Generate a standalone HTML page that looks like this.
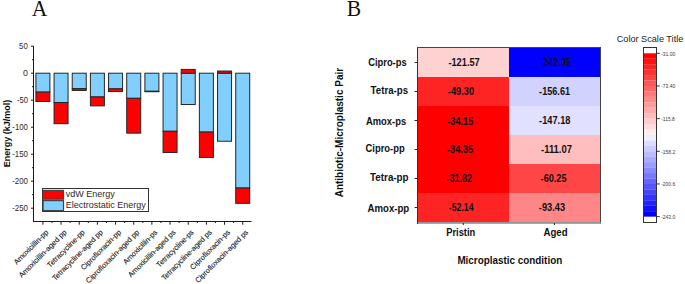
<!DOCTYPE html>
<html><head><meta charset="utf-8"><style>
html,body{margin:0;padding:0;background:#fff;width:685px;height:284px;overflow:hidden;}
svg{display:block;}
</style></head><body>
<svg width="685" height="284" viewBox="0 0 685 284">
<text transform="translate(31.7,15.8) scale(0.94,1)" font-family="&quot;Liberation Serif&quot;, serif" font-size="23" fill="#111">A</text>
<text transform="translate(346.7,15.8) scale(0.94,1)" font-family="&quot;Liberation Serif&quot;, serif" font-size="23" fill="#111">B</text>
<rect x="35.90" y="73.20" width="14.00" height="18.90" fill="#80CFFF" stroke="#262626" stroke-width="1"/>
<rect x="35.90" y="92.10" width="14.00" height="9.40" fill="#FF0000" stroke="#262626" stroke-width="1"/>
<rect x="54.06" y="73.20" width="14.00" height="29.32" fill="#80CFFF" stroke="#262626" stroke-width="1"/>
<rect x="54.06" y="102.52" width="14.00" height="21.17" fill="#FF0000" stroke="#262626" stroke-width="1"/>
<rect x="72.23" y="73.20" width="14.00" height="15.50" fill="#80CFFF" stroke="#262626" stroke-width="1"/>
<rect x="72.23" y="88.70" width="14.00" height="1.73" fill="#FF0000" stroke="#262626" stroke-width="1"/>
<rect x="90.39" y="73.20" width="14.00" height="23.76" fill="#80CFFF" stroke="#262626" stroke-width="1"/>
<rect x="90.39" y="96.96" width="14.00" height="8.91" fill="#FF0000" stroke="#262626" stroke-width="1"/>
<rect x="108.56" y="73.20" width="14.00" height="15.66" fill="#80CFFF" stroke="#262626" stroke-width="1"/>
<rect x="108.56" y="88.86" width="14.00" height="2.70" fill="#FF0000" stroke="#262626" stroke-width="1"/>
<rect x="126.72" y="73.20" width="14.00" height="25.11" fill="#80CFFF" stroke="#262626" stroke-width="1"/>
<rect x="126.72" y="98.31" width="14.00" height="34.83" fill="#FF0000" stroke="#262626" stroke-width="1"/>
<rect x="144.89" y="73.20" width="14.00" height="18.09" fill="#80CFFF" stroke="#262626" stroke-width="1"/>
<rect x="144.89" y="91.29" width="14.00" height="0.43" fill="#FF0000" stroke="#262626" stroke-width="1"/>
<rect x="163.06" y="73.20" width="14.00" height="58.10" fill="#80CFFF" stroke="#262626" stroke-width="1"/>
<rect x="163.06" y="131.30" width="14.00" height="21.22" fill="#FF0000" stroke="#262626" stroke-width="1"/>
<rect x="181.22" y="73.20" width="14.00" height="31.32" fill="#80CFFF" stroke="#262626" stroke-width="1"/>
<rect x="181.22" y="69.42" width="14.00" height="3.78" fill="#FF0000" stroke="#262626" stroke-width="1"/>
<rect x="199.38" y="73.20" width="14.00" height="58.86" fill="#80CFFF" stroke="#262626" stroke-width="1"/>
<rect x="199.38" y="132.06" width="14.00" height="25.38" fill="#FF0000" stroke="#262626" stroke-width="1"/>
<rect x="217.55" y="73.20" width="14.00" height="68.04" fill="#80CFFF" stroke="#262626" stroke-width="1"/>
<rect x="217.55" y="71.04" width="14.00" height="2.16" fill="#FF0000" stroke="#262626" stroke-width="1"/>
<rect x="235.72" y="73.20" width="14.00" height="114.80" fill="#80CFFF" stroke="#262626" stroke-width="1"/>
<rect x="235.72" y="188.00" width="14.00" height="15.34" fill="#FF0000" stroke="#262626" stroke-width="1"/>
<line x1="33.5" y1="46" x2="33.5" y2="222.0" stroke="#1a1a1a" stroke-width="1"/>
<line x1="33.0" y1="221.5" x2="251.5" y2="221.5" stroke="#1a1a1a" stroke-width="1"/>
<line x1="31.0" y1="46.20" x2="33.5" y2="46.20" stroke="#1a1a1a" stroke-width="1"/>
<line x1="31.0" y1="73.20" x2="33.5" y2="73.20" stroke="#1a1a1a" stroke-width="1"/>
<line x1="31.0" y1="100.20" x2="33.5" y2="100.20" stroke="#1a1a1a" stroke-width="1"/>
<line x1="31.0" y1="127.20" x2="33.5" y2="127.20" stroke="#1a1a1a" stroke-width="1"/>
<line x1="31.0" y1="154.20" x2="33.5" y2="154.20" stroke="#1a1a1a" stroke-width="1"/>
<line x1="31.0" y1="181.20" x2="33.5" y2="181.20" stroke="#1a1a1a" stroke-width="1"/>
<line x1="31.0" y1="208.20" x2="33.5" y2="208.20" stroke="#1a1a1a" stroke-width="1"/>
<line x1="32.0" y1="59.70" x2="33.5" y2="59.70" stroke="#1a1a1a" stroke-width="1"/>
<line x1="32.0" y1="86.70" x2="33.5" y2="86.70" stroke="#1a1a1a" stroke-width="1"/>
<line x1="32.0" y1="113.70" x2="33.5" y2="113.70" stroke="#1a1a1a" stroke-width="1"/>
<line x1="32.0" y1="140.70" x2="33.5" y2="140.70" stroke="#1a1a1a" stroke-width="1"/>
<line x1="32.0" y1="167.70" x2="33.5" y2="167.70" stroke="#1a1a1a" stroke-width="1"/>
<line x1="32.0" y1="194.70" x2="33.5" y2="194.70" stroke="#1a1a1a" stroke-width="1"/>
<line x1="42.90" y1="221.5" x2="42.90" y2="224.7" stroke="#1a1a1a" stroke-width="1"/>
<line x1="51.98" y1="221.5" x2="51.98" y2="223.0" stroke="#1a1a1a" stroke-width="1"/>
<text transform="translate(48.90,232.80) rotate(-45)" text-anchor="end" font-family="&quot;Liberation Sans&quot;, sans-serif" font-size="7.4" fill="#1e1e1e" stroke="#1e1e1e" stroke-width="0.12">Amoxicillin-pp</text>
<line x1="61.06" y1="221.5" x2="61.06" y2="224.7" stroke="#1a1a1a" stroke-width="1"/>
<line x1="70.15" y1="221.5" x2="70.15" y2="223.0" stroke="#1a1a1a" stroke-width="1"/>
<text transform="translate(67.06,232.80) rotate(-45)" text-anchor="end" font-family="&quot;Liberation Sans&quot;, sans-serif" font-size="7.4" fill="#1e1e1e" stroke="#1e1e1e" stroke-width="0.12">Amoxicillin-aged pp</text>
<line x1="79.23" y1="221.5" x2="79.23" y2="224.7" stroke="#1a1a1a" stroke-width="1"/>
<line x1="88.31" y1="221.5" x2="88.31" y2="223.0" stroke="#1a1a1a" stroke-width="1"/>
<text transform="translate(85.23,232.80) rotate(-45)" text-anchor="end" font-family="&quot;Liberation Sans&quot;, sans-serif" font-size="7.4" fill="#1e1e1e" stroke="#1e1e1e" stroke-width="0.12">Tetracycline-pp</text>
<line x1="97.39" y1="221.5" x2="97.39" y2="224.7" stroke="#1a1a1a" stroke-width="1"/>
<line x1="106.48" y1="221.5" x2="106.48" y2="223.0" stroke="#1a1a1a" stroke-width="1"/>
<text transform="translate(103.39,232.80) rotate(-45)" text-anchor="end" font-family="&quot;Liberation Sans&quot;, sans-serif" font-size="7.4" fill="#1e1e1e" stroke="#1e1e1e" stroke-width="0.12">Tetracycline-aged pp</text>
<line x1="115.56" y1="221.5" x2="115.56" y2="224.7" stroke="#1a1a1a" stroke-width="1"/>
<line x1="124.64" y1="221.5" x2="124.64" y2="223.0" stroke="#1a1a1a" stroke-width="1"/>
<text transform="translate(121.56,232.80) rotate(-45)" text-anchor="end" font-family="&quot;Liberation Sans&quot;, sans-serif" font-size="7.4" fill="#1e1e1e" stroke="#1e1e1e" stroke-width="0.12">Ciprofloxacin-pp</text>
<line x1="133.72" y1="221.5" x2="133.72" y2="224.7" stroke="#1a1a1a" stroke-width="1"/>
<line x1="142.81" y1="221.5" x2="142.81" y2="223.0" stroke="#1a1a1a" stroke-width="1"/>
<text transform="translate(139.72,232.80) rotate(-45)" text-anchor="end" font-family="&quot;Liberation Sans&quot;, sans-serif" font-size="7.4" fill="#1e1e1e" stroke="#1e1e1e" stroke-width="0.12">Ciprofloxacin-aged pp</text>
<line x1="151.89" y1="221.5" x2="151.89" y2="224.7" stroke="#1a1a1a" stroke-width="1"/>
<line x1="160.97" y1="221.5" x2="160.97" y2="223.0" stroke="#1a1a1a" stroke-width="1"/>
<text transform="translate(157.89,232.80) rotate(-45)" text-anchor="end" font-family="&quot;Liberation Sans&quot;, sans-serif" font-size="7.4" fill="#1e1e1e" stroke="#1e1e1e" stroke-width="0.12">Amoxicillin-ps</text>
<line x1="170.06" y1="221.5" x2="170.06" y2="224.7" stroke="#1a1a1a" stroke-width="1"/>
<line x1="179.14" y1="221.5" x2="179.14" y2="223.0" stroke="#1a1a1a" stroke-width="1"/>
<text transform="translate(176.06,232.80) rotate(-45)" text-anchor="end" font-family="&quot;Liberation Sans&quot;, sans-serif" font-size="7.4" fill="#1e1e1e" stroke="#1e1e1e" stroke-width="0.12">Amoxicillin-aged ps</text>
<line x1="188.22" y1="221.5" x2="188.22" y2="224.7" stroke="#1a1a1a" stroke-width="1"/>
<line x1="197.30" y1="221.5" x2="197.30" y2="223.0" stroke="#1a1a1a" stroke-width="1"/>
<text transform="translate(194.22,232.80) rotate(-45)" text-anchor="end" font-family="&quot;Liberation Sans&quot;, sans-serif" font-size="7.4" fill="#1e1e1e" stroke="#1e1e1e" stroke-width="0.12">Tetracycline-ps</text>
<line x1="206.38" y1="221.5" x2="206.38" y2="224.7" stroke="#1a1a1a" stroke-width="1"/>
<line x1="215.47" y1="221.5" x2="215.47" y2="223.0" stroke="#1a1a1a" stroke-width="1"/>
<text transform="translate(212.38,232.80) rotate(-45)" text-anchor="end" font-family="&quot;Liberation Sans&quot;, sans-serif" font-size="7.4" fill="#1e1e1e" stroke="#1e1e1e" stroke-width="0.12">Tetracycline-aged ps</text>
<line x1="224.55" y1="221.5" x2="224.55" y2="224.7" stroke="#1a1a1a" stroke-width="1"/>
<line x1="233.63" y1="221.5" x2="233.63" y2="223.0" stroke="#1a1a1a" stroke-width="1"/>
<text transform="translate(230.55,232.80) rotate(-45)" text-anchor="end" font-family="&quot;Liberation Sans&quot;, sans-serif" font-size="7.4" fill="#1e1e1e" stroke="#1e1e1e" stroke-width="0.12">Ciprofloxacin-ps</text>
<line x1="242.72" y1="221.5" x2="242.72" y2="224.7" stroke="#1a1a1a" stroke-width="1"/>
<text transform="translate(248.72,232.80) rotate(-45)" text-anchor="end" font-family="&quot;Liberation Sans&quot;, sans-serif" font-size="7.4" fill="#1e1e1e" stroke="#1e1e1e" stroke-width="0.12">Ciprofloxacin-aged ps</text>
<text transform="translate(9.6,133.4) rotate(-90)" text-anchor="middle" font-family="&quot;Liberation Sans&quot;, sans-serif" font-weight="bold" font-size="9" fill="#111">Energy (kJ/mol)</text>
<rect x="42.5" y="188.5" width="106" height="23" fill="#fff" stroke="#333" stroke-width="1"/>
<rect x="43.1" y="190.4" width="20.4" height="8.8" fill="#FF0000" stroke="#444" stroke-width="1.2"/>
<rect x="43.1" y="200.6" width="20.4" height="10" fill="#80CFFF" stroke="#444" stroke-width="1.2"/>
<rect x="418" y="48" width="91" height="29" fill="#ffd2d2"/>
<rect x="509" y="48" width="91" height="29" fill="#0000ff"/>
<rect x="418" y="77" width="91" height="29" fill="#ff2424"/>
<rect x="509" y="77" width="91" height="29" fill="#d2d2ff"/>
<rect x="418" y="106" width="91" height="29" fill="#ff0000"/>
<rect x="509" y="106" width="91" height="29" fill="#e1e1ff"/>
<rect x="418" y="135" width="91" height="29" fill="#ff0000"/>
<rect x="509" y="135" width="91" height="29" fill="#ffbebe"/>
<rect x="418" y="164" width="91" height="29" fill="#ff0000"/>
<rect x="509" y="164" width="91" height="29" fill="#ff4646"/>
<rect x="418" y="193" width="91" height="29" fill="#ff2424"/>
<rect x="509" y="193" width="91" height="29" fill="#ff8686"/>
<line x1="417.5" y1="47" x2="417.5" y2="224" stroke="#333" stroke-width="1"/>
<line x1="417" y1="47.5" x2="601" y2="47.5" stroke="#444" stroke-width="1"/>
<line x1="600.5" y1="47" x2="600.5" y2="224" stroke="#444" stroke-width="1"/>
<rect x="418" y="222" width="183" height="1.8" fill="#8e9696"/>
<line x1="414.6" y1="62.5" x2="417" y2="62.5" stroke="#222" stroke-width="1"/>
<line x1="414.6" y1="91.5" x2="417" y2="91.5" stroke="#222" stroke-width="1"/>
<line x1="414.6" y1="120.5" x2="417" y2="120.5" stroke="#222" stroke-width="1"/>
<line x1="414.6" y1="149.5" x2="417" y2="149.5" stroke="#222" stroke-width="1"/>
<line x1="414.6" y1="178.5" x2="417" y2="178.5" stroke="#222" stroke-width="1"/>
<line x1="414.6" y1="207.5" x2="417" y2="207.5" stroke="#222" stroke-width="1"/>
<line x1="463.3" y1="223" x2="463.3" y2="225" stroke="#222" stroke-width="1"/>
<line x1="554.4" y1="223" x2="554.4" y2="225" stroke="#222" stroke-width="1"/>
<text transform="translate(343.2,132.6) rotate(-90)" text-anchor="middle" font-family="&quot;Liberation Sans&quot;, sans-serif" font-weight="bold" font-size="10" fill="#111">Antibiotic-Microplastic Pair</text>
<rect x="643.5" y="47.5" width="13" height="175" fill="#fff" stroke="#333" stroke-width="1"/>
<rect x="644" y="53.30" width="12" height="5.49" fill="#ff0000"/>
<rect x="644" y="58.74" width="12" height="5.49" fill="#ff1111"/>
<rect x="644" y="64.19" width="12" height="5.49" fill="#ff2222"/>
<rect x="644" y="69.63" width="12" height="5.49" fill="#ff3333"/>
<rect x="644" y="75.07" width="12" height="5.49" fill="#ff4444"/>
<rect x="644" y="80.52" width="12" height="5.49" fill="#ff5555"/>
<rect x="644" y="85.96" width="12" height="5.49" fill="#ff6666"/>
<rect x="644" y="91.40" width="12" height="5.49" fill="#ff7777"/>
<rect x="644" y="96.85" width="12" height="5.49" fill="#ff8888"/>
<rect x="644" y="102.29" width="12" height="5.49" fill="#ff9999"/>
<rect x="644" y="107.73" width="12" height="5.49" fill="#ffaaaa"/>
<rect x="644" y="113.18" width="12" height="5.49" fill="#ffbbbb"/>
<rect x="644" y="118.62" width="12" height="5.49" fill="#ffcccc"/>
<rect x="644" y="124.06" width="12" height="5.49" fill="#ffdddd"/>
<rect x="644" y="129.51" width="12" height="5.49" fill="#ffeeee"/>
<rect x="644" y="134.95" width="12" height="5.49" fill="#eeeeff"/>
<rect x="644" y="140.39" width="12" height="5.49" fill="#ddddff"/>
<rect x="644" y="145.84" width="12" height="5.49" fill="#ccccff"/>
<rect x="644" y="151.28" width="12" height="5.49" fill="#bbbbff"/>
<rect x="644" y="156.72" width="12" height="5.49" fill="#aaaaff"/>
<rect x="644" y="162.17" width="12" height="5.49" fill="#9999ff"/>
<rect x="644" y="167.61" width="12" height="5.49" fill="#8888ff"/>
<rect x="644" y="173.05" width="12" height="5.49" fill="#7777ff"/>
<rect x="644" y="178.50" width="12" height="5.49" fill="#6666ff"/>
<rect x="644" y="183.94" width="12" height="5.49" fill="#5555ff"/>
<rect x="644" y="189.38" width="12" height="5.49" fill="#4444ff"/>
<rect x="644" y="194.83" width="12" height="5.49" fill="#3333ff"/>
<rect x="644" y="200.27" width="12" height="5.49" fill="#2222ff"/>
<rect x="644" y="205.71" width="12" height="5.49" fill="#1111ff"/>
<rect x="644" y="211.16" width="12" height="5.49" fill="#0000ff"/>
<line x1="656.5" y1="53.30" x2="659.8" y2="53.30" stroke="#333" stroke-width="1"/>
<line x1="656.5" y1="85.96" x2="659.8" y2="85.96" stroke="#333" stroke-width="1"/>
<line x1="656.5" y1="118.62" x2="659.8" y2="118.62" stroke="#333" stroke-width="1"/>
<line x1="656.5" y1="151.28" x2="659.8" y2="151.28" stroke="#333" stroke-width="1"/>
<line x1="656.5" y1="183.94" x2="659.8" y2="183.94" stroke="#333" stroke-width="1"/>
<line x1="656.5" y1="216.60" x2="659.8" y2="216.60" stroke="#333" stroke-width="1"/>
<text x="19.10" y="49.00" font-family="&quot;Liberation Sans&quot;, sans-serif" font-weight="normal" font-size="8.5" fill="#2b2b2b" textLength="8.62" lengthAdjust="spacingAndGlyphs">50</text>
<text x="23.00" y="76.00" font-family="&quot;Liberation Sans&quot;, sans-serif" font-weight="normal" font-size="8.5" fill="#2b2b2b" textLength="4.92" lengthAdjust="spacingAndGlyphs">0</text>
<text x="17.00" y="103.00" font-family="&quot;Liberation Sans&quot;, sans-serif" font-weight="normal" font-size="8.5" fill="#2b2b2b" textLength="11.07" lengthAdjust="spacingAndGlyphs">-50</text>
<text x="12.30" y="130.00" font-family="&quot;Liberation Sans&quot;, sans-serif" font-weight="normal" font-size="8.5" fill="#2b2b2b" textLength="15.61" lengthAdjust="spacingAndGlyphs">-100</text>
<text x="12.20" y="157.00" font-family="&quot;Liberation Sans&quot;, sans-serif" font-weight="normal" font-size="8.5" fill="#2b2b2b" textLength="15.81" lengthAdjust="spacingAndGlyphs">-150</text>
<text x="12.20" y="184.00" font-family="&quot;Liberation Sans&quot;, sans-serif" font-weight="normal" font-size="8.5" fill="#2b2b2b" textLength="15.81" lengthAdjust="spacingAndGlyphs">-200</text>
<text x="12.20" y="211.00" font-family="&quot;Liberation Sans&quot;, sans-serif" font-weight="normal" font-size="8.5" fill="#2b2b2b" textLength="15.81" lengthAdjust="spacingAndGlyphs">-250</text>
<text x="65.70" y="197.20" font-family="&quot;Liberation Sans&quot;, sans-serif" font-weight="normal" font-size="9" fill="#2b2b2b" textLength="49.03" lengthAdjust="spacingAndGlyphs">vdW Energy</text>
<text x="65.70" y="207.90" font-family="&quot;Liberation Sans&quot;, sans-serif" font-weight="normal" font-size="9" fill="#2b2b2b" textLength="80.15" lengthAdjust="spacingAndGlyphs">Electrostatic Energy</text>
<text x="448.40" y="65.90" font-family="&quot;Liberation Sans&quot;, sans-serif" font-weight="bold" font-size="10.6" fill="#111" textLength="31.35" lengthAdjust="spacingAndGlyphs">-121.57</text>
<text x="540.20" y="65.90" font-family="&quot;Liberation Sans&quot;, sans-serif" font-weight="bold" font-size="10.6" fill="#111" textLength="30.95" lengthAdjust="spacingAndGlyphs">-242.05</text>
<text x="447.80" y="95.40" font-family="&quot;Liberation Sans&quot;, sans-serif" font-weight="bold" font-size="10.6" fill="#111" textLength="26.34" lengthAdjust="spacingAndGlyphs">-49.30</text>
<text x="539.10" y="95.20" font-family="&quot;Liberation Sans&quot;, sans-serif" font-weight="bold" font-size="10.6" fill="#111" textLength="30.95" lengthAdjust="spacingAndGlyphs">-156.61</text>
<text x="447.30" y="124.60" font-family="&quot;Liberation Sans&quot;, sans-serif" font-weight="bold" font-size="10.6" fill="#111" textLength="25.94" lengthAdjust="spacingAndGlyphs">-34.15</text>
<text x="539.10" y="124.00" font-family="&quot;Liberation Sans&quot;, sans-serif" font-weight="bold" font-size="10.6" fill="#111" textLength="31.35" lengthAdjust="spacingAndGlyphs">-147.18</text>
<text x="446.90" y="152.80" font-family="&quot;Liberation Sans&quot;, sans-serif" font-weight="bold" font-size="10.6" fill="#111" textLength="26.34" lengthAdjust="spacingAndGlyphs">-34.35</text>
<text x="541.00" y="152.50" font-family="&quot;Liberation Sans&quot;, sans-serif" font-weight="bold" font-size="10.6" fill="#111" textLength="30.99" lengthAdjust="spacingAndGlyphs">-111.07</text>
<text x="446.40" y="181.50" font-family="&quot;Liberation Sans&quot;, sans-serif" font-weight="bold" font-size="10.6" fill="#111" textLength="25.74" lengthAdjust="spacingAndGlyphs">-31.82</text>
<text x="540.60" y="181.80" font-family="&quot;Liberation Sans&quot;, sans-serif" font-weight="bold" font-size="10.6" fill="#111" textLength="25.94" lengthAdjust="spacingAndGlyphs">-60.25</text>
<text x="448.80" y="211.40" font-family="&quot;Liberation Sans&quot;, sans-serif" font-weight="bold" font-size="10.6" fill="#111" textLength="24.72" lengthAdjust="spacingAndGlyphs">-52.14</text>
<text x="538.80" y="210.90" font-family="&quot;Liberation Sans&quot;, sans-serif" font-weight="bold" font-size="10.6" fill="#111" textLength="26.24" lengthAdjust="spacingAndGlyphs">-93.43</text>
<text x="368.20" y="66.00" font-family="&quot;Liberation Sans&quot;, sans-serif" font-weight="bold" font-size="10.5" fill="#111" textLength="38.45" lengthAdjust="spacingAndGlyphs">Cipro-ps</text>
<text x="370.60" y="93.60" font-family="&quot;Liberation Sans&quot;, sans-serif" font-weight="bold" font-size="10.5" fill="#111" textLength="37.48" lengthAdjust="spacingAndGlyphs">Tetra-ps</text>
<text x="366.00" y="125.00" font-family="&quot;Liberation Sans&quot;, sans-serif" font-weight="bold" font-size="10.5" fill="#111" textLength="40.14" lengthAdjust="spacingAndGlyphs">Amox-ps</text>
<text x="365.50" y="151.60" font-family="&quot;Liberation Sans&quot;, sans-serif" font-weight="bold" font-size="10.5" fill="#111" textLength="39.18" lengthAdjust="spacingAndGlyphs">Cipro-pp</text>
<text x="370.10" y="180.90" font-family="&quot;Liberation Sans&quot;, sans-serif" font-weight="bold" font-size="10.5" fill="#111" textLength="38.52" lengthAdjust="spacingAndGlyphs">Tetra-pp</text>
<text x="367.50" y="211.80" font-family="&quot;Liberation Sans&quot;, sans-serif" font-weight="bold" font-size="10.5" fill="#111" textLength="41.76" lengthAdjust="spacingAndGlyphs">Amox-pp</text>
<text x="446.20" y="235.80" font-family="&quot;Liberation Sans&quot;, sans-serif" font-weight="bold" font-size="10" fill="#111" textLength="29.12" lengthAdjust="spacingAndGlyphs">Pristin</text>
<text x="543.50" y="236.30" font-family="&quot;Liberation Sans&quot;, sans-serif" font-weight="bold" font-size="10" fill="#111" textLength="24.10" lengthAdjust="spacingAndGlyphs">Aged</text>
<text x="457.40" y="264.10" font-family="&quot;Liberation Sans&quot;, sans-serif" font-weight="bold" font-size="10" fill="#111" textLength="104.82" lengthAdjust="spacingAndGlyphs">Microplastic condition</text>
<text x="616.70" y="41.60" font-family="&quot;Liberation Sans&quot;, sans-serif" font-weight="normal" font-size="9" fill="#222" textLength="66.64" lengthAdjust="spacingAndGlyphs">Color Scale Title</text>
<text x="661.20" y="55.70" font-family="&quot;Liberation Sans&quot;, sans-serif" font-weight="normal" font-size="5.6" fill="#3a3a3a" textLength="13.99" lengthAdjust="spacingAndGlyphs">-31.00</text>
<text x="661.20" y="88.36" font-family="&quot;Liberation Sans&quot;, sans-serif" font-weight="normal" font-size="5.6" fill="#3a3a3a" textLength="13.99" lengthAdjust="spacingAndGlyphs">-73.40</text>
<text x="661.20" y="121.02" font-family="&quot;Liberation Sans&quot;, sans-serif" font-weight="normal" font-size="5.6" fill="#3a3a3a" textLength="13.62" lengthAdjust="spacingAndGlyphs">-115.8</text>
<text x="661.20" y="153.68" font-family="&quot;Liberation Sans&quot;, sans-serif" font-weight="normal" font-size="5.6" fill="#3a3a3a" textLength="13.99" lengthAdjust="spacingAndGlyphs">-158.2</text>
<text x="661.20" y="186.34" font-family="&quot;Liberation Sans&quot;, sans-serif" font-weight="normal" font-size="5.6" fill="#3a3a3a" textLength="13.99" lengthAdjust="spacingAndGlyphs">-200.6</text>
<text x="661.20" y="219.00" font-family="&quot;Liberation Sans&quot;, sans-serif" font-weight="normal" font-size="5.6" fill="#3a3a3a" textLength="13.99" lengthAdjust="spacingAndGlyphs">-243.0</text>
</svg>
</body></html>
